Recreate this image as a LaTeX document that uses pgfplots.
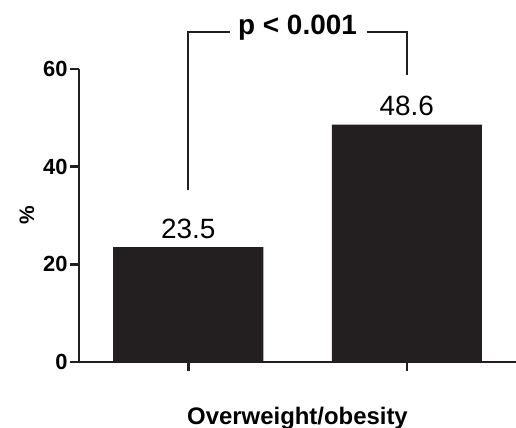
\documentclass[border=0pt]{standalone}
\usepackage{fontspec}
\setmainfont{Liberation Sans}
\usepackage{pgfplots}
\pgfplotsset{compat=1.18}
\definecolor{barc}{HTML}{231F20}
\begin{document}
\begin{tikzpicture}
\begin{axis}[
  scale only axis,
  width=437bp, height=293bp,
  xmin=0.5, xmax=2.5, ymin=0, ymax=60,
  axis lines=left,
  axis line style={-, line width=2.5bp, color=barc},
  ytick={0,20,40,60},
  xtick={1,2},
  xticklabels={{},{}},
  tick align=outside,
  major tick length=9bp,
  tick style={line width=2.5bp, color=barc},
  /pgf/number format/assume math mode=true,
  yticklabel style={font=\bfseries\fontsize{22}{22}\selectfont, xshift=1bp},
  ylabel={\%},
  ylabel style={font=\bfseries\fontsize{21}{21}\selectfont, at={(axis description cs:-0.119,0.5)}, anchor=center, rotate=0},
  xlabel={Overweight/obesity},
  xlabel style={font=\bfseries\fontsize{24}{24}\selectfont, at={(axis description cs:0.5,0)}, anchor=base, yshift=-62bp},
  clip=false,
  ybar, bar width=150bp,
  nodes near coords,
  nodes near coords style={font=\fontsize{28}{28}\selectfont, yshift=5bp, /pgf/number format/.cd, fixed, precision=1, fixed zerofill},
]
\addplot[fill=barc, draw=none] coordinates {(1,23.5) (2,48.6)};
\coordinate (o) at (rel axis cs:0,0);
\draw[line width=2bp, color=barc] (axis cs:1,35.2) -- (axis cs:1,67.6) -- (axis cs:1.191,67.6);
\draw[line width=2bp, color=barc] (axis cs:1.818,67.6) -- (axis cs:2,67.6) -- (axis cs:2,58.8);
\node[anchor=base, font=\bfseries\fontsize{28}{28}\selectfont, inner sep=0pt] at (axis cs:1.5,67.0) {p < 0.001};
\end{axis}
\pgfresetboundingbox
\path[use as bounding box] ([shift={(-79bp,-66bp)}]o) rectangle ([shift={(437bp,362bp)}]o);
\end{tikzpicture}
\end{document}
